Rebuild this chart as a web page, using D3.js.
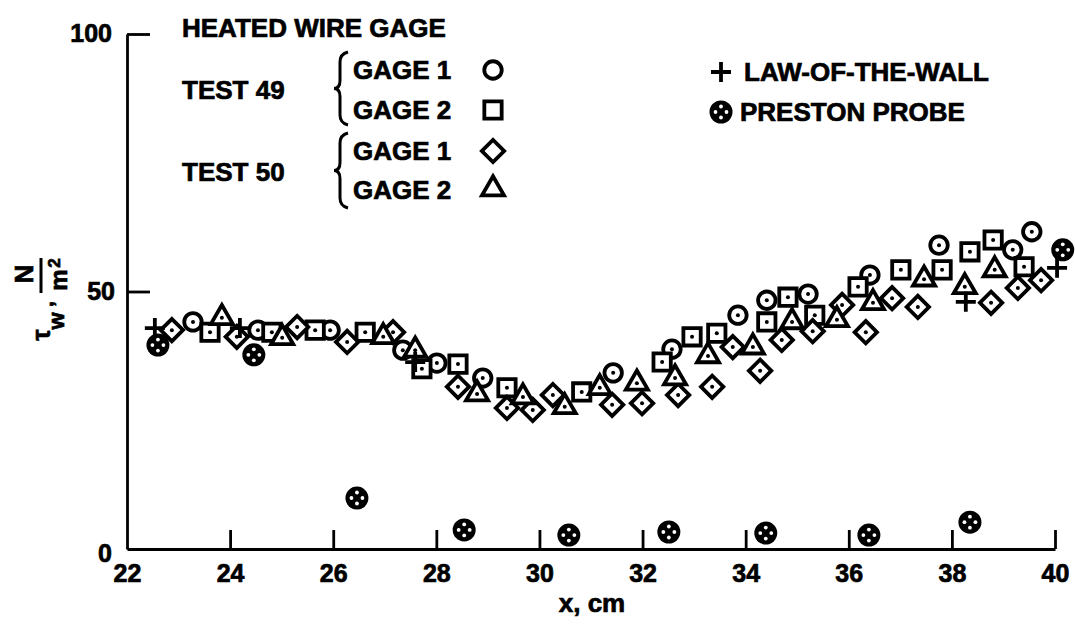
<!DOCTYPE html>
<meta charset="utf-8">
<style>
body { margin: 0; background: #fff; }
svg { font-family: "Liberation Sans", Arial, sans-serif; font-weight: bold; }
svg text { stroke: #000; stroke-width: 0.7; }
.axis path, .axis line { stroke: #000; stroke-width: 2.8; fill: none; }
.axis text { font-size: 25px; font-weight: bold; fill: #000; font-family: "Liberation Sans", Arial, sans-serif; }
.mark { fill: #fff; stroke: #000; stroke-width: 3.8; }
.dot { fill: #000; }
.leg { font-size: 26px; fill: #000; }
</style>
<body>
<script src="https://d3js.org/d3.v7.min.js"></script>
<script>
// tick labels
var xTicks = [22, 24, 26, 28, 30, 32, 34, 36, 38, 40];
var yTicks = [0, 50, 100];

// heated wire gage, [x cm, tau_w N/m^2]
var test49Gage1 = [[23.28,44.1],[24.54,42.5],[25.94,42.5],[27.35,38.6],[28.01,36.1],[28.9,33.2],
  [31.43,34.2],[32.57,38.8],[33.85,45.4],[34.41,48.3],[35.21,49.5],[36.41,53.2],[37.75,59.0],
  [39.18,58.1],[39.55,61.6]];
var test49Gage2 = [[23.61,42.1],[24.81,42.1],[25.65,42.5],[26.62,42.1],[27.72,35.0],[28.42,35.9],
  [29.37,31.3],[30.82,30.5],[32.38,36.3],[32.96,41.2],[33.44,41.9],[34.41,44.1],[34.82,48.9],
  [35.34,45.4],[36.18,50.9],[37.01,54.2],[37.81,54.2],[38.35,57.7],[38.8,60.0],[39.4,54.8]];
var test50Gage1 = [[22.87,42.5],[24.13,41.2],[25.3,43.1],[26.27,40.2],[27.16,42.1],[28.42,31.5],
  [29.37,27.4],[29.87,27.0],[30.26,29.9],[31.41,28.0],[31.99,28.3],[32.69,29.9],[33.35,31.5],
  [33.75,39.2],[34.28,34.6],[34.7,40.6],[35.3,42.3],[35.87,47.4],[36.33,42.1],[36.84,48.7],
  [37.34,47.0],[38.76,47.8],[39.28,50.7],[39.73,52.2]];
var test50Gage2 = [[23.84,44.9],[25.01,41.0],[26.97,41.2],[27.59,38.6],[28.79,30.1],[29.68,29.5],
  [30.49,27.6],[31.17,31.3],[31.89,32.2],[32.63,33.2],[33.27,37.5],[34.14,39.2],[34.9,44.1],
  [35.77,44.5],[36.47,47.8],[37.46,52.4],[38.25,50.9],[38.83,54.2]];
var lawOfWall = [[22.54,42.9],[24.19,42.9],[27.59,36.3],[38.27,48.0],[40.04,54.6]];
var preston = [[22.6,39.6],[24.46,37.7],[26.46,9.9],[28.54,3.7],[30.57,2.7],[32.51,3.3],
  [34.39,3.1],[36.39,2.7],[38.35,5.2],[40.15,58.1]];

var width = 1075, height = 624;

var x = d3.scaleLinear().domain([22, 40]).range([127, 1055]);
var y = d3.scaleLinear().domain([0, 100]).range([549, 34]);

var svg = d3.select("body").append("svg")
  .attr("width", width)
  .attr("height", height);

// x axis, ticks point up into the plot
var xAxis = svg.append("g")
  .attr("class", "axis")
  .attr("transform", "translate(0," + y(0) + ")")
  .call(d3.axisBottom(x).tickValues(xTicks).tickSizeInner(-19).tickSizeOuter(0).tickPadding(15));
xAxis.selectAll(".tick").filter(function(d) { return d === 22; }).select("line").remove();

// y axis, ticks point right
var yAxis = svg.append("g")
  .attr("class", "axis")
  .attr("transform", "translate(" + x(22) + ",0)")
  .call(d3.axisLeft(y).tickValues(yTicks).tickSizeInner(-23).tickSizeOuter(0).tickPadding(12));
yAxis.selectAll(".tick").filter(function(d) { return d === 0; }).select("line").remove();
yAxis.selectAll(".tick").filter(function(d) { return d === 0; }).select("text").attr("dy", "0.5em").attr("x", -15);
yAxis.selectAll(".tick").filter(function(d) { return d === 100; }).select("text").attr("dy", "0.3em").attr("x", -15);

svg.append("text")
  .attr("x", 592).attr("y", 612)
  .attr("text-anchor", "middle")
  .style("font-size", "26px")
  .text("x, cm");

// y label: tau_w, N/m^2 (rotated)
var yl = svg.append("g").attr("transform", "translate(40,300) rotate(-90)");
yl.append("text").attr("x", -35).attr("y", 10).attr("text-anchor", "middle").style("font-size", "25px").text("τ");
yl.append("text").attr("x", -21).attr("y", 24).attr("text-anchor", "middle").style("font-size", "22px").text("w");
yl.append("text").attr("x", -4).attr("y", 13).attr("text-anchor", "middle").style("font-size", "21px").text(",");
yl.append("line").attr("x1", 7).attr("x2", 42).attr("y1", 1).attr("y2", 1).attr("stroke", "#000").attr("stroke-width", 3);
yl.append("text").attr("x", 26).attr("y", -7).attr("text-anchor", "middle").style("font-size", "26px").text("N");
yl.append("text").attr("x", 20).attr("y", 27).attr("text-anchor", "middle").style("font-size", "24px").text("m");
yl.append("text").attr("x", 37).attr("y", 20).attr("text-anchor", "middle").style("font-size", "17px").text("2");

// marker drawing
var symCircle = d3.symbol().type(d3.symbolCircle).size(240);
var symSquare = d3.symbol().type(d3.symbolSquare).size(300);
var symDiamond = d3.symbol().type(d3.symbolSquare).size(250);
var symTriangle = d3.symbol().type(d3.symbolTriangle).size(210);

function drawMarks(data, gen, rot) {
  var g = svg.append("g").selectAll("g").data(data).join("g")
    .attr("transform", function(d) { return "translate(" + x(d[0]) + "," + y(d[1]) + ")"; });
  g.append("path").attr("class", "mark").attr("d", gen()).attr("transform", "rotate(" + rot + ")");
  g.append("circle").attr("class", "dot").attr("r", 2);
}

function drawPlus(sel) {
  sel.append("path").attr("d", "M-10,0H10M0,-10V10").attr("stroke", "#000").attr("stroke-width", 3.8);
}

function drawPreston(sel) {
  sel.append("circle").attr("r", 11.5).attr("fill", "#000");
  [[0, -5.5], [-5.5, 0], [5.5, 0], [0, 5.5]].forEach(function(p) {
    sel.append("circle").attr("cx", p[0]).attr("cy", p[1]).attr("r", 1.9).attr("fill", "#fff");
  });
}

drawMarks(test49Gage1, symCircle, 0);
drawMarks(test49Gage2, symSquare, 0);
drawMarks(test50Gage1, symDiamond, 45);
drawMarks(test50Gage2, symTriangle, 0);

svg.append("g").selectAll("g").data(lawOfWall).join("g")
  .attr("transform", function(d) { return "translate(" + x(d[0]) + "," + y(d[1]) + ")"; })
  .each(function() { drawPlus(d3.select(this)); });

svg.append("g").selectAll("g").data(preston).join("g")
  .attr("transform", function(d) { return "translate(" + x(d[0]) + "," + y(d[1]) + ")"; })
  .each(function() { drawPreston(d3.select(this)); });

// legend
var leg = svg.append("g").attr("class", "leg");
leg.append("text").attr("x", 182).attr("y", 37).text("HEATED WIRE GAGE");
leg.append("text").attr("x", 182).attr("y", 99).text("TEST 49");
leg.append("text").attr("x", 182).attr("y", 181).text("TEST 50");
leg.append("text").attr("x", 353).attr("y", 79).text("GAGE 1");
leg.append("text").attr("x", 353).attr("y", 119).text("GAGE 2");
leg.append("text").attr("x", 353).attr("y", 160).text("GAGE 1");
leg.append("text").attr("x", 353).attr("y", 199).text("GAGE 2");

function brace(top, bot) {
  var mid = (top + bot) / 2;
  return "M348," + top + "Q340," + (top + 2) + " 340," + (top + 10) +
    "L340," + (mid - 8) + "Q340," + mid + " 334," + mid +
    "Q340," + mid + " 340," + (mid + 8) +
    "L340," + (bot - 10) + "Q340," + (bot - 2) + " 348," + bot;
}
leg.append("path").attr("d", brace(52, 125)).attr("fill", "none").attr("stroke", "#000").attr("stroke-width", 3);
leg.append("path").attr("d", brace(133, 208)).attr("fill", "none").attr("stroke", "#000").attr("stroke-width", 3);

var legMarks = [[symCircle, 0, 70], [symSquare, 0, 110], [symDiamond, 45, 151], [symTriangle, 0, 189]];
legMarks.forEach(function(m) {
  leg.append("path").attr("class", "mark")
    .attr("d", m[0]())
    .attr("transform", "translate(493," + m[2] + ") rotate(" + m[1] + ")");
});

drawPlus(leg.append("g").attr("transform", "translate(721,72)"));
leg.append("text").attr("x", 744).attr("y", 81).text("LAW-OF-THE-WALL");
drawPreston(leg.append("g").attr("transform", "translate(721,112)"));
leg.append("text").attr("x", 740).attr("y", 121).text("PRESTON PROBE");
</script>
